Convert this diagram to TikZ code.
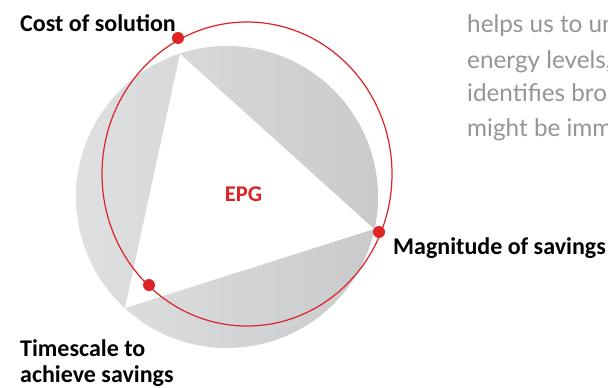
\documentclass[tikz,border=0pt]{standalone}
\usepackage{fontspec}
\setmainfont{Carlito}
\newfontfamily\latofont{Lato}
\definecolor{epgred}{HTML}{DD2325}
\definecolor{greyL}{HTML}{DFE0E1}
\definecolor{greyR}{HTML}{C9CACC}
\definecolor{bodygrey}{HTML}{939598}
\tikzset{
  lbl/.style={font=\fontsize{24}{28}\selectfont\bfseries, text=black, inner sep=0pt, anchor=base west},
  bodytxt/.style={font=\latofont\fontsize{24.3}{30}\selectfont, text=bodygrey, inner sep=0pt, anchor=base west},
  dot/.style={circle, fill=epgred, inner sep=0pt, minimum size=12pt},
}
\begin{document}
\begin{tikzpicture}[x=1pt,y=-1pt]
\clip (0,0) rectangle (608,388);
\fill[white] (0,0) rectangle (608,388);
% grey disk with inscribed white triangle
\shade[left color=greyL, right color=greyR] (227,197) circle[radius=151];
\coordinate (tA) at (180,54);
\coordinate (tB) at (374,229);
\coordinate (tC) at (125,308);
\fill[white] (tA) -- (tB) -- (tC) -- cycle;
% red ellipse
\draw[epgred, line width=1.2pt] (247,174) ellipse[x radius=145, y radius=152];
% dots
\node[dot] (dcost) at (178,38) {};
\node[dot] (dmag) at (379,232) {};
\node[dot] (dtime) at (149,285) {};
% labels
\node[lbl] (lcost) at (20,31.7) {Cost of solution};
\node[lbl] (lmag) at (393,254) {Magnitude of savings};
\node[lbl] (ltime1) at (20,356) {Timescale to};
\node[lbl] (ltime2) at (20,382) {achieve savings};
\node[lbl, font=\fontsize{22.5}{26}\selectfont\bfseries, text=epgred, anchor=base] (epg) at (243.5,201.7) {EPG};
% body text (cut at the right edge, as in the reference)
\node[bodytxt] (b1) at (467,32.7) {helps us to un};
\node[bodytxt] (b2) at (467,68.3) {energy levels,};
\node[bodytxt] (b3) at (467,101.7) {identifies broa};
\node[bodytxt] (b4) at (467,136.7) {might be imm};
\end{tikzpicture}
\end{document}
